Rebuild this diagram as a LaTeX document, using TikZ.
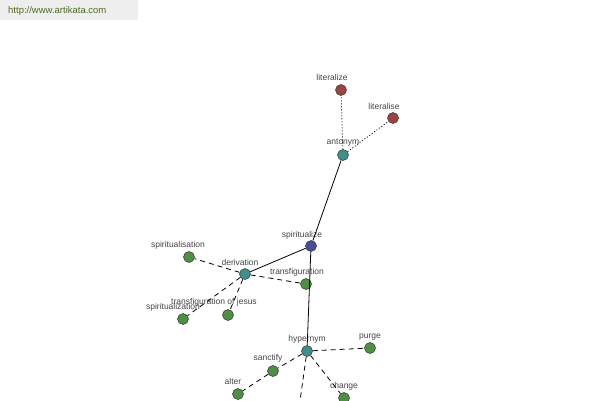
\documentclass[tikz,border=0pt]{standalone}
\usepackage{fontspec}
\setmainfont{Liberation Sans}
\definecolor{brownred}{HTML}{9E4440}
\definecolor{tealnode}{HTML}{3F8F8C}
\definecolor{bluenode}{HTML}{4A4C9E}
\definecolor{greennode}{HTML}{4E8F45}
\definecolor{urlgreen}{HTML}{4F6B22}
\definecolor{headbg}{HTML}{EEEEEE}
\definecolor{labelgray}{HTML}{444444}

\begin{document}
\begin{tikzpicture}[x=1pt,y=-1pt,
  dot/.style={circle,draw=black!80,line width=0.5pt,minimum size=11pt,inner sep=0pt},
  lbl/.style={text=labelgray,font=\fontsize{8.5}{9}\selectfont,inner sep=0pt},
  rel/.style={line width=0.8pt},
  derrel/.style={rel,dashed,dash pattern=on 5pt off 4pt},
  antrel/.style={rel,dash pattern=on 1pt off 2pt}]
\clip (0,0) rectangle (600,400);
\useasboundingbox (0,0) rectangle (600,400);

% header
\fill[headbg] (0,0) rectangle (138,20);
\node[anchor=west,text=urlgreen,font=\fontsize{9.5}{10}\selectfont,inner sep=0pt] (url) at (8,11) {http://www.artikata.com};

% nodes
\node[dot,fill=brownred] (literalize) at (341,90) {};
\node[dot,fill=brownred] (literalise) at (393,118) {};
\node[dot,fill=tealnode] (antonym) at (343,155) {};
\node[dot,fill=bluenode] (spiritualize) at (311,246) {};
\node[dot,fill=tealnode] (derivation) at (245,274) {};
\node[dot,fill=greennode] (spiritualisation) at (189,257) {};
\node[dot,fill=greennode] (transfiguration) at (306,284) {};
\node[dot,fill=greennode] (spiritualization) at (183,319) {};
\node[dot,fill=greennode] (transfigjesus) at (228,315) {};
\node[dot,fill=tealnode] (hypernym) at (307,351) {};
\node[dot,fill=greennode] (purge) at (370,348) {};
\node[dot,fill=greennode] (sanctify) at (273,371) {};
\node[dot,fill=greennode] (alter) at (238,394) {};
\node[dot,fill=greennode] (change) at (344,398) {};
\coordinate (hypbelow) at (298,415);

% labels
\node[lbl] (l-literalize) at (332,77) {literalize};
\node[lbl] (l-literalise) at (384,106) {literalise};
\node[lbl] (l-antonym) at (343,143) {antonym};
\node[lbl] (l-spiritualize) at (302,235) {spiritualize};
\node[lbl] (l-derivation) at (240,262) {derivation};
\node[lbl] (l-spiritualisation) at (178,245) {spiritualisation};
\node[lbl] (l-transfiguration) at (297,272) {transfiguration};
\node[lbl] (l-spiritualization) at (173,307) {spiritualization};
\node[lbl] (l-transfigjesus) at (214,302) {transfiguration of jesus};
\node[lbl] (l-hypernym) at (307,339) {hypernym};
\node[lbl] (l-purge) at (370,337) {purge};
\node[lbl] (l-sanctify) at (268,358) {sanctify};
\node[lbl] (l-alter) at (233,381) {alter};
\node[lbl] (l-change) at (344,386) {change};

% relations
\draw[antrel] (antonym) -- (literalize);
\draw[antrel] (antonym) -- (literalise);
\draw[rel] (antonym) -- (spiritualize);
\draw[rel] (spiritualize) -- (derivation);
\draw[rel] (spiritualize) -- (hypernym);
\draw[derrel] (derivation) -- (spiritualisation);
\draw[derrel] (derivation) -- (transfiguration);
\draw[derrel] (derivation) -- (spiritualization);
\draw[derrel] (derivation) -- (transfigjesus);
\draw[derrel] (hypernym) -- (purge);
\draw[derrel] (hypernym) -- (sanctify);
\draw[derrel] (sanctify) -- (alter);
\draw[derrel] (hypernym) -- (change);
\draw[derrel] (hypernym) -- (hypbelow);
\end{tikzpicture}
\end{document}
